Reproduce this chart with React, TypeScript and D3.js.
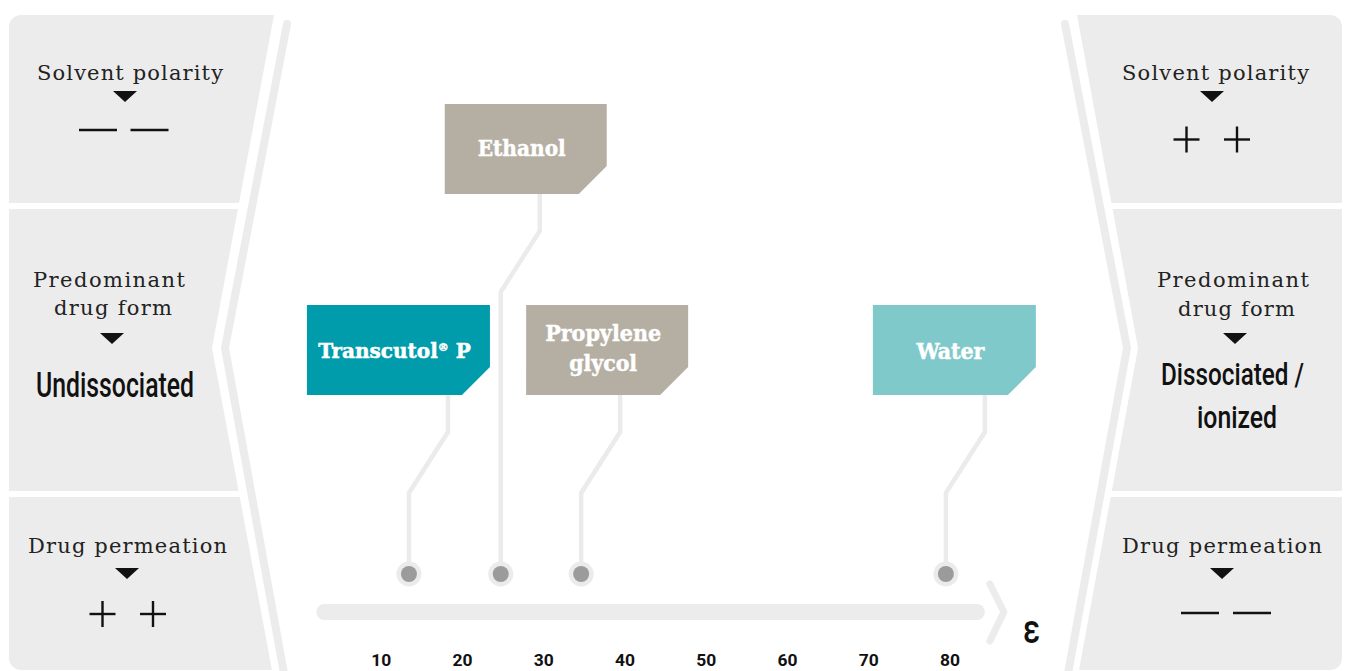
import React, { useLayoutEffect, useRef, useState } from "react";
import * as d3 from "d3";

// ---------- data ----------
const solvents = ["Transcutol® P", "Ethanol", "Propylene glycol", "Water"];
const epsilonValues = [13.4, 24.7, 34.6, 79.5];
const solventColors = ["#009cab", "#b5afa3", "#b5afa3", "#80c9cb"];
const tickValues = [10, 20, 30, 40, 50, 60, 70, 80];
const axisExtent = [2, 84.3];
const panelTitles = ["Solvent polarity", "Predominant drug form", "Drug permeation"];
const leftValues = ["− −", "Undissociated", "+ +"];
const rightValues = ["+ +", "Dissociated / ionized", "− −"];

// ---------- layout ----------
const W = 1347;
const H = 671;
const GREY = "#ececec";

const x = d3.scaleLinear().domain([0, 100]).range([300.1, 1112.4]);

const boxLayout = [
  { dx: -102, top: 305, w: 183, lines: null as null | string[], tw: 157 },
  { dx: -56, top: 104, w: 162, lines: null, tw: 88 },
  { dx: -55, top: 305, w: 162, lines: ["Propylene", "glycol"], tw: 116 },
  { dx: -73, top: 305, w: 163, lines: null, tw: 68 },
];
const BOX_H = 90;
const CUT = 28;
const DOT_Y = 574;

const R = 12;
const TIP_Y = 348;
const L_LEFT = 9;
const L_TOP_X = 274;
const L_TIP_X = 212;
const R_RIGHT = 1342;
const R_TOP_X = 1077;
const R_TIP_X = 1138;
const panelRows: [number, number][] = [
  [15, 203],
  [209, 491],
  [497, 670],
];

function xrLeft(y: number) {
  const s = (L_TOP_X - L_TIP_X) / (TIP_Y - 15);
  return y < TIP_Y ? L_TOP_X - s * (y - 15) : L_TIP_X + s * (y - TIP_Y);
}
function xlRight(y: number) {
  const s = (R_TIP_X - R_TOP_X) / (TIP_Y - 15);
  return y < TIP_Y ? R_TOP_X + s * (y - 15) : R_TIP_X - s * (y - TIP_Y);
}

function leftPanelPath(y0: number, y1: number, rt: boolean, rb: boolean) {
  let d = rt ? `M${L_LEFT},${y0 + R} A${R},${R} 0 0 1 ${L_LEFT + R},${y0}` : `M${L_LEFT},${y0}`;
  d += ` L${xrLeft(y0)},${y0}`;
  if (y0 < TIP_Y && y1 > TIP_Y) d += ` L${L_TIP_X},${TIP_Y}`;
  d += ` L${xrLeft(y1)},${y1}`;
  d += rb ? ` L${L_LEFT + R},${y1} A${R},${R} 0 0 1 ${L_LEFT},${y1 - R}` : ` L${L_LEFT},${y1}`;
  return d + " Z";
}
function rightPanelPath(y0: number, y1: number, rt: boolean, rb: boolean) {
  let d = `M${xlRight(y0)},${y0}`;
  d += rt ? ` L${R_RIGHT - R},${y0} A${R},${R} 0 0 1 ${R_RIGHT},${y0 + R}` : ` L${R_RIGHT},${y0}`;
  d += rb ? ` L${R_RIGHT},${y1 - R} A${R},${R} 0 0 1 ${R_RIGHT - R},${y1}` : ` L${R_RIGHT},${y1}`;
  d += ` L${xlRight(y1)},${y1}`;
  if (y0 < TIP_Y && y1 > TIP_Y) d += ` L${R_TIP_X},${TIP_Y}`;
  return d + " Z";
}

const SERIF = "'DejaVu Serif', 'Liberation Serif', serif";
const COND = "Roboto, 'Noto Sans', sans-serif";

function Header({ text, cx, y, w }: { text: string; cx: number; y: number; w: number }) {
  return (
    <text x={cx} y={y} textAnchor="middle" fontFamily={SERIF} fontSize={21} fill="#222"
      textLength={w} lengthAdjust="spacing">{text}</text>
  );
}
function Tri({ cx, y }: { cx: number; y: number }) {
  return <path d={`M${cx - 12},${y} L${cx + 12},${y} L${cx},${y + 11} Z`} fill="#111" />;
}
function Dashes({ c1, c2, y }: { c1: number; c2: number; y: number }) {
  return (
    <g stroke="#111" strokeWidth={2.6}>
      <line x1={c1 - 19} x2={c1 + 19} y1={y} y2={y} />
      <line x1={c2 - 19} x2={c2 + 19} y1={y} y2={y} />
    </g>
  );
}
function Pluses({ c1, c2, y }: { c1: number; c2: number; y: number }) {
  return (
    <g stroke="#111" strokeWidth={2.4}>
      {[c1, c2].map((c, i) => (
        <g key={i}>
          <line x1={c - 13} x2={c + 13} y1={y} y2={y} />
          <line x1={c} x2={c} y1={y - 13} y2={y + 13} />
        </g>
      ))}
    </g>
  );
}
// condensed text: measure natural width and squeeze horizontally to the target width
function Big({ text, cx, y, w, size }: { text: string; cx: number; y: number; w: number; size: number }) {
  const ref = useRef<SVGTextElement>(null);
  const [sx, setSx] = useState(0.7);
  useLayoutEffect(() => {
    if (ref.current) {
      const n = ref.current.getComputedTextLength();
      if (n > 0) setSx(w / n);
    }
  }, [text, w, size]);
  return (
    <text ref={ref} transform={`translate(${cx},${y}) scale(${sx},1)`} textAnchor="middle"
      fontFamily={COND} fontWeight={500} fontSize={size} fill="#111">{text}</text>
  );
}

export default function App() {
  const tickW = (v: number) => (String(v).length === 2 ? 20 : 28);
  return (
    <svg width={W} height={H} viewBox={`0 0 ${W} ${H}`}
      style={{ position: "absolute", left: 0, top: 0, display: "block", background: "#fff" }}>
      {/* side panels */}
      {panelRows.map(([a, b], i) => (
        <path key={"l" + i} d={leftPanelPath(a, b, i === 0, i === 2)} fill={GREY} />
      ))}
      {panelRows.map(([a, b], i) => (
        <path key={"r" + i} d={rightPanelPath(a, b, i === 0, i === 2)} fill={GREY} />
      ))}
      {/* chevron strokes */}
      <polyline points={`287,24 225,${TIP_Y} 287,690`} fill="none" stroke={GREY} strokeWidth={8}
        strokeLinecap="round" strokeLinejoin="round" />
      <polyline points={`1065,24 1127,${TIP_Y} 1065,690`} fill="none" stroke={GREY} strokeWidth={8}
        strokeLinecap="round" strokeLinejoin="round" />

      {/* left panel texts */}
      <Header text={panelTitles[0]} cx={130} y={80} w={186} />
      <Tri cx={125} y={91} />
      <Dashes c1={98} c2={149.5} y={130} />
      <Header text="Predominant" cx={109} y={287} w={152} />
      <Header text="drug form" cx={113} y={315} w={118} />
      <Tri cx={112} y={333} />
      <Big text={leftValues[1]} cx={115} y={397} w={158} size={35} />
      <Header text={panelTitles[2]} cx={127.5} y={553} w={199} />
      <Tri cx={127} y={568} />
      <Pluses c1={102.5} c2={153} y={614} />

      {/* right panel texts */}
      <Header text={panelTitles[0]} cx={1215.5} y={80} w={187} />
      <Tri cx={1212} y={91} />
      <Pluses c1={1186.5} c2={1237} y={139.5} />
      <Header text="Predominant" cx={1233} y={287} w={152} />
      <Header text="drug form" cx={1236.5} y={316} w={117} />
      <Tri cx={1235} y={333} />
      <Big text="Dissociated /" cx={1232.5} y={385} w={143} size={32} />
      <Big text="ionized" cx={1237} y={428} w={80} size={32} />
      <Header text={panelTitles[2]} cx={1222} y={553} w={200} />
      <Tri cx={1222} y={568} />
      <Dashes c1={1200} c2={1252} y={613} />
      <desc>{rightValues.join(" | ")}</desc>

      {/* axis bar */}
      <rect x={x(axisExtent[0])} y={604} width={x(axisExtent[1]) - x(axisExtent[0])} height={16} rx={8} fill={GREY} />
      <polyline points={`${x(axisExtent[1]) + 5},584 ${x(axisExtent[1]) + 19},612 ${x(axisExtent[1]) + 5},641`}
        fill="none" stroke={GREY} strokeWidth={7} strokeLinecap="round" strokeLinejoin="round" />
      <text x={1031.5} y={643} textAnchor="middle" fontFamily={COND} fontWeight={500} fontSize={40} fill="#111"
        textLength={17} lengthAdjust="spacingAndGlyphs">ε</text>
      {tickValues.map((v) => (
        <text key={v} x={x(v)} y={666} textAnchor="middle" fontFamily={COND} fontWeight={700} fontSize={16.5}
          fill="#111" textLength={tickW(v)} lengthAdjust="spacingAndGlyphs">{v}</text>
      ))}

      {/* connectors and dots */}
      {solvents.map((s, i) => {
        const cx = x(epsilonValues[i]);
        const b = boxLayout[i];
        const bottom = b.top + BOX_H;
        const path = d3.line()([
          [cx + 39, bottom],
          [cx + 39, bottom + 37],
          [cx, bottom + 98],
          [cx, DOT_Y],
        ]);
        return (
          <g key={"c" + i}>
            <path d={path || ""} fill="none" stroke="#ebebeb" strokeWidth={4.5} />
            <circle cx={cx} cy={DOT_Y} r={12.5} fill="#ebebeb" />
            <circle cx={cx} cy={DOT_Y} r={8} fill="#9b9b9b" />
          </g>
        );
      })}

      {/* solvent boxes */}
      {solvents.map((s, i) => {
        const cx = x(epsilonValues[i]);
        const b = boxLayout[i];
        const x0 = cx + b.dx;
        const x1 = x0 + b.w;
        const y0 = b.top;
        const y1 = y0 + BOX_H;
        const d = `M${x0},${y0} L${x1},${y0} L${x1},${y1 - CUT} L${x1 - CUT},${y1} L${x0},${y1} Z`;
        const tx = (x0 + x1) / 2 - 4;
        const common = {
          fontFamily: SERIF, fontWeight: 700, fontSize: 23, fill: "#fff", stroke: "#fff", strokeWidth: 0.5,
          textAnchor: "middle" as const,
        };
        let label;
        if (b.lines) {
          label = (
            <g>
              <text x={tx} y={y0 + 36} {...common} textLength={b.tw} lengthAdjust="spacingAndGlyphs">{b.lines[0]}</text>
              <text x={tx} y={y0 + 66} {...common} textLength={68} lengthAdjust="spacingAndGlyphs">{b.lines[1]}</text>
            </g>
          );
        } else if (s.includes("®")) {
          const [main, rest] = s.split("®");
          label = (
            <text x={tx} y={y0 + 53} {...common} fontSize={20}>
              {main}
              <tspan fontSize={11} baselineShift="60%">®</tspan>
              {rest}
            </text>
          );
        } else {
          label = (
            <text x={tx} y={y0 + (s === "Water" ? 54 : 52)} {...common} textLength={b.tw} lengthAdjust="spacingAndGlyphs">{s}</text>
          );
        }
        return (
          <g key={"b" + i}>
            <path d={d} fill={solventColors[i]} />
            {label}
          </g>
        );
      })}
    </svg>
  );
}
